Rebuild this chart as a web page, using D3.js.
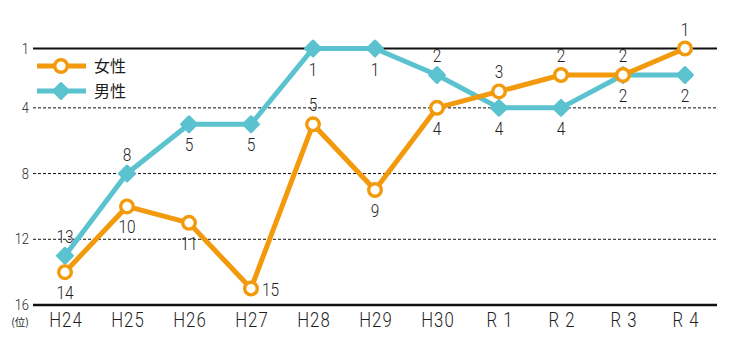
<!DOCTYPE html>
<html>
<head>
<meta charset="utf-8">
<script src="https://cdn.jsdelivr.net/npm/d3@7"></script>
<style>
  html, body { margin: 0; padding: 0; background: #fff; }
  svg { display: block; }
  .num { font-family: Roboto, "Liberation Sans", sans-serif; font-weight: 300; fill: #1e1e1e; }
  .jp { font-family: "Noto Sans CJK JP", "Noto Sans", sans-serif; fill: #1e1e1e; }
</style>
</head>
<body>
<svg id="chart" width="738" height="338"></svg>
<script>
// Fiscal years
const years = ["H24", "H25", "H26", "H27", "H28", "H29", "H30", "R 1", "R 2", "R 3", "R 4"];
// Ranking by year
const female = [14, 10, 11, 15, 5, 9, 4, 3, 2, 2, 1];
const male   = [13, 8, 5, 5, 1, 1, 2, 4, 4, 2, 2];
// Where each value label sits relative to its marker
const femaleLabelSide = ["below", "below", "below", "right", "above", "below", "below", "above", "above", "above", "above"];
const maleLabelSide   = ["above", "above", "below", "below", "below", "below", "above", "below", "below", "below", "below"];
// Rank axis ticks
const rankTicks = [1, 4, 8, 12, 16];

const seriesNames = ["女性", "男性"];
const colors = { female: "#F39A0C", male: "#5BC2CF" };

const svg = d3.select("#chart");

const x = d3.scalePoint().domain(years).range([65, 685]);
// rank 1 gets extra headroom at the top
const y = d3.scaleLinear().domain([1, 2, 16]).range([48.5, 75, 305]);

const xLeft = 33, xRight = 717;
const squeeze = 0.86; // horizontal condensing of numeric text

// places condensed text at (px, py)
function place(sel, px, py) {
  sel.attr("transform", (d, i) => `translate(${px(d, i)},${py(d, i)}) scale(${squeeze},1)`);
}

// gridlines
svg.append("g").selectAll("line")
  .data(rankTicks)
  .join("line")
  .attr("x1", xLeft).attr("x2", xRight)
  .attr("y1", d => y(d)).attr("y2", d => y(d))
  .attr("stroke", "#111")
  .attr("stroke-width", d => (d === 1 ? 2.2 : d === 16 ? 2.6 : 1))
  .attr("stroke-dasharray", d => (d === 1 || d === 16 ? null : "3,2"));

// rank tick labels
svg.append("g").selectAll("text")
  .data(rankTicks)
  .join("text")
  .attr("class", "num")
  .attr("text-anchor", "end")
  .attr("font-size", 15)
  .text(d => d)
  .call(place, () => 29, d => y(d) + 5);

svg.append("text")
  .attr("class", "jp")
  .attr("x", 20).attr("y", 326)
  .attr("text-anchor", "middle")
  .attr("font-size", 10.5)
  .text("(位)");

// year labels
svg.append("g").selectAll("text")
  .data(x.domain())
  .join("text")
  .attr("class", "num")
  .attr("text-anchor", "middle")
  .attr("font-size", 19.5)
  .attr("letter-spacing", 1.2)
  .text(d => d)
  .call(place, d => x(d) + 1, () => 327);

const line = d3.line().x((d, i) => x(years[i])).y(d => y(d));

function drawSeries(values, color, marker) {
  const g = svg.append("g");
  g.append("path")
    .datum(values)
    .attr("d", line)
    .attr("fill", "none")
    .attr("stroke", color)
    .attr("stroke-width", 5)
    .attr("stroke-linejoin", "round");
  if (marker === "circle") {
    g.selectAll("circle").data(values).join("circle")
      .attr("cx", (d, i) => x(years[i]))
      .attr("cy", d => y(d))
      .attr("r", 6.3)
      .attr("fill", "#fff")
      .attr("stroke", color)
      .attr("stroke-width", 3.4);
  } else {
    g.selectAll("path.mk").data(values).join("path")
      .attr("class", "mk")
      .attr("transform", (d, i) => `translate(${x(years[i])},${y(d)}) rotate(45)`)
      .attr("d", d3.symbol(d3.symbolSquare, 110))
      .attr("fill", color)
      .attr("stroke", color)
      .attr("stroke-width", 3)
      .attr("stroke-linejoin", "round");
  }
}

function drawLabels(values, sides) {
  svg.append("g").selectAll("text")
    .data(values)
    .join("text")
    .attr("class", "num")
    .attr("font-size", 18)
    .attr("text-anchor", (d, i) => (sides[i] === "right" ? "start" : "middle"))
    .text(d => d)
    .call(place,
      (d, i) => x(years[i]) + (sides[i] === "right" ? 11 : 0),
      (d, i) => y(d) + (sides[i] === "above" ? -13 : sides[i] === "below" ? 27 : 7));
}

drawSeries(male, colors.male, "diamond");
drawSeries(female, colors.female, "circle");
drawLabels(female, femaleLabelSide);
drawLabels(male, maleLabelSide);

// legend
const legend = svg.append("g");
const legendItems = [
  { name: seriesNames[0], color: colors.female, marker: "circle", y: 66 },
  { name: seriesNames[1], color: colors.male, marker: "diamond", y: 91 }
];
legendItems.forEach(it => {
  legend.append("line")
    .attr("x1", 37).attr("x2", 86)
    .attr("y1", it.y).attr("y2", it.y)
    .attr("stroke", it.color).attr("stroke-width", 5);
  if (it.marker === "circle") {
    legend.append("circle")
      .attr("cx", 61).attr("cy", it.y).attr("r", 6.3)
      .attr("fill", "#fff").attr("stroke", it.color).attr("stroke-width", 3.4);
  } else {
    legend.append("path")
      .attr("transform", `translate(61,${it.y}) rotate(45)`)
      .attr("d", d3.symbol(d3.symbolSquare, 110))
      .attr("fill", it.color).attr("stroke", it.color)
      .attr("stroke-width", 3).attr("stroke-linejoin", "round");
  }
  legend.append("text")
    .attr("class", "jp")
    .attr("x", 94).attr("y", it.y + 6)
    .attr("font-size", 16)
    .text(it.name);
});
</script>
</body>
</html>
